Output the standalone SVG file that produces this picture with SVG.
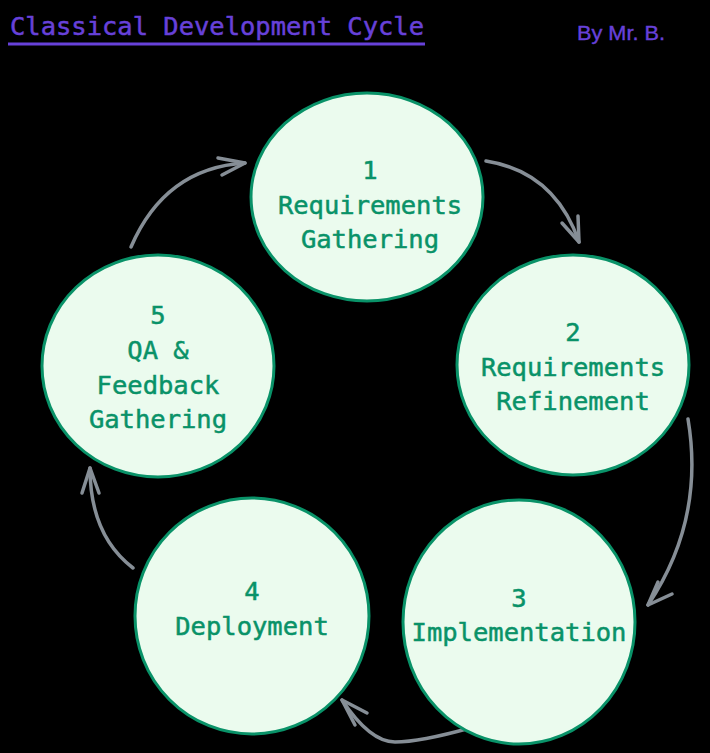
<svg xmlns="http://www.w3.org/2000/svg" width="710" height="753" viewBox="0 0 710 753">
<style>
.node ellipse{fill:#ebfbee;stroke:#099268;stroke-width:3}
.node text{font-family:"DejaVu Sans Mono","Liberation Mono",monospace;font-size:25.5px;fill:#099268;stroke:#099268;stroke-width:0.5;text-anchor:middle}
.conn path{fill:none;stroke:#868e96;stroke-width:3.5;stroke-linecap:round;stroke-linejoin:round}
.title{font-family:"DejaVu Sans Mono","Liberation Mono",monospace;font-size:25.5px;fill:#6741d9;stroke:#6741d9;stroke-width:0.5}
.by{font-family:"Liberation Sans",sans-serif;font-size:20px;fill:#6741d9;stroke:#6741d9;stroke-width:0.4}
</style>
<rect width="710" height="753" fill="#000"/>
<g id="title">
<text class="title" x="10" y="35" textLength="414" lengthAdjust="spacingAndGlyphs">Classical Development Cycle</text>
<path d="M8,44 L425,44" stroke="#6741d9" stroke-width="3" fill="none"/>
</g>
<g id="author"><text class="by" x="577" y="40" textLength="88" lengthAdjust="spacingAndGlyphs">By Mr. B.</text></g>
<g id="conns" class="conn">
<path d="M131,247 Q165,168 245,163"/>
<path d="M218,158 L245,163 L222,175"/>
<path d="M486,161 Q555,172 579,242"/>
<path d="M578,216 L579,242 L562,223"/>
<path d="M688,419 Q705,520 648,605"/>
<path d="M658,582 L648,605 L672,594"/>
<path d="M470,728 Q420,742 395,742 Q370,742 342,700"/>
<path d="M367,713 L342,700 L355,725"/>
<path d="M133,568 Q90,535 90,468"/>
<path d="M82,493 L90,468 L99,493"/>
</g>
<g id="node1" class="node">
<ellipse cx="367" cy="197" rx="116" ry="104"/>
<text x="370" y="179">1</text>
<text x="370" y="214">Requirements</text>
<text x="370" y="248">Gathering</text>
</g>
<g id="node2" class="node">
<ellipse cx="573" cy="365" rx="116" ry="110"/>
<text x="573" y="341">2</text>
<text x="573" y="376">Requirements</text>
<text x="573" y="410">Refinement</text>
</g>
<g id="node3" class="node">
<ellipse cx="519" cy="622" rx="116" ry="122"/>
<text x="519" y="607">3</text>
<text x="519" y="641">Implementation</text>
</g>
<g id="node4" class="node">
<ellipse cx="252" cy="616" rx="117" ry="118"/>
<text x="252" y="600">4</text>
<text x="252" y="635">Deployment</text>
</g>
<g id="node5" class="node">
<ellipse cx="158" cy="366" rx="116" ry="111"/>
<text x="158" y="324">5</text>
<text x="158" y="359">QA &amp;</text>
<text x="158" y="394">Feedback</text>
<text x="158" y="428">Gathering</text>
</g>
</svg>
